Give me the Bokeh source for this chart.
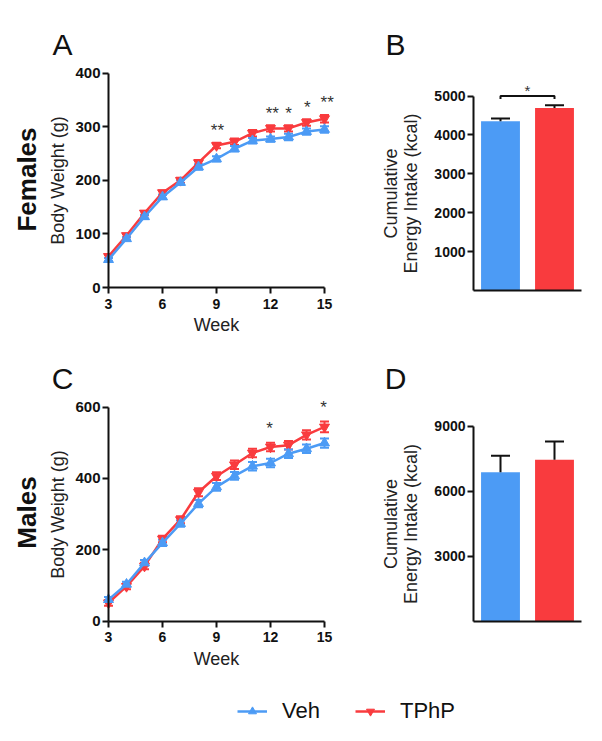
import numpy as np
from bokeh.plotting import figure
from bokeh.models import (LinearAxis, FixedTicker, Range1d, ColumnDataSource,
                          Whisker, TeeHead, Legend, LegendItem)
from bokeh.layouts import column, row
from bokeh.embed import file_html
from bokeh.resources import INLINE
from bokeh.core.properties import value

# ---------------- data ----------------
weeks = [3, 4, 5, 6, 7, 8, 9, 10, 11, 12, 13, 14, 15]
fem_veh = [52, 91, 132, 169, 196, 225, 240, 259, 274, 277, 281, 291, 295]
fem_veh_sem = [3, 3, 4, 4, 4, 5, 5, 5, 5, 5, 6, 6, 6]
fem_tphp = [58, 97, 139, 177, 200, 233, 265, 272, 288, 297, 297, 308, 315]
fem_tphp_sem = [3, 3, 4, 4, 5, 5, 5, 6, 6, 6, 6, 6, 7]
male_veh = [60, 103, 163, 219, 273, 329, 376, 407, 434, 443, 469, 483, 499]
male_veh_sem = [7, 7, 8, 9, 9, 10, 11, 11, 12, 12, 12, 12, 13]
male_tphp = [51, 97, 154, 230, 284, 361, 406, 438, 471, 488, 493, 522, 544]
male_tphp_sem = [8, 8, 9, 9, 10, 11, 11, 12, 12, 12, 12, 13, 15]

fem_star_weeks = [9.05, 12.1, 13.0, 14.05, 15.15]
fem_star_y = [301, 333, 333, 344, 352]
fem_star_text = ["**", "**", "*", "*", "**"]
male_star_weeks = [11.95, 14.95]
male_star_y = [551, 609]
male_star_text = ["*", "*"]

groups = ["Veh", "TPhP"]
fem_intake = [4350, 4690]
fem_intake_sem = [70, 70]
male_intake = [6870, 7450]
male_intake_sem = [765, 840]
fem_bracket_y = 5000
fem_bracket_text = "*"

week_ticks = [3, 6, 9, 12, 15]
fem_bw_ticks = [0, 100, 200, 300, 400]
male_bw_ticks = [0, 200, 400, 600]
fem_kcal_ticks = [1000, 2000, 3000, 4000, 5000]
male_kcal_ticks = [3000, 6000, 9000]

# ---------------- style ----------------
BLUE = "#4C9BF5"
RED = "#F93B3E"
FONT = "Liberation Sans"
INK = "#111111"


def lin(v0, p0, v1, p1):
    k = (p1 - p0) / (v1 - v0)
    return lambda px: v0 + (px - p0) / k


def make_fig(box, xmap, ymap):
    left, top, right, bottom = box
    p = figure(width=right - left, height=bottom - top,
               x_range=Range1d(xmap(left), xmap(right)),
               y_range=Range1d(ymap(bottom), ymap(top)),
               x_axis_location=None, y_axis_location=None,
               toolbar_location=None, output_backend="svg",
               min_border=0, outline_line_color=None)
    p.grid.visible = False
    return p


def style_axis(ax, tick_size, label_size):
    ax.axis_line_width = 2
    ax.axis_line_color = INK
    ax.major_tick_line_width = 2
    ax.major_tick_line_color = INK
    ax.major_tick_out = 6
    ax.major_tick_in = 0
    ax.minor_tick_out = 0
    ax.minor_tick_in = 0
    ax.major_label_text_font = FONT
    ax.major_label_text_font_style = "bold"
    ax.major_label_text_font_size = tick_size
    ax.major_label_text_color = INK
    ax.axis_label_text_font = FONT
    ax.axis_label_text_font_style = "normal"
    ax.axis_label_text_font_size = label_size
    ax.axis_label_text_color = "#222222"


def add_text(p, x, y, txt, size, **kw):
    p.text(x=x, y=y, text=txt, text_font=value(FONT), text_font_size=size, **kw)


def line_panel(box, ymap, y_ticks, veh, veh_sem, tphp, tphp_sem,
               sx, sy, st, letter, letter_base, sex, sex_center):
    xmap = lin(3, 108, 15, 324)
    p = make_fig(box, xmap, ymap)
    for vals, sem, color, marker in [(tphp, tphp_sem, RED, "inverted_triangle"),
                                     (veh, veh_sem, BLUE, "triangle")]:
        src = ColumnDataSource(dict(x=weeks, y=vals,
                                    lo=[v - s for v, s in zip(vals, sem)],
                                    hi=[v + s for v, s in zip(vals, sem)]))
        p.add_layout(Whisker(source=src, base="x", upper="hi", lower="lo",
                             line_color=color, line_width=2,
                             upper_head=TeeHead(size=9, line_color=color, line_width=2),
                             lower_head=TeeHead(size=9, line_color=color, line_width=2)))
        p.line("x", "y", source=src, line_color=color, line_width=2.5)
        p.scatter("x", "y", source=src, marker=marker, size=10,
                  fill_color=color, line_color=color)

    yax = LinearAxis(fixed_location=weeks[0], bounds=(0, y_ticks[-1]),
                     ticker=FixedTicker(ticks=y_ticks), axis_label="Body Weight (g)",
                     major_label_standoff=2, axis_label_standoff=4)
    style_axis(yax, "15px", "18px")
    p.add_layout(yax, "left")
    xax = LinearAxis(fixed_location=0, bounds=(weeks[0], weeks[-1]),
                     ticker=FixedTicker(ticks=week_ticks), axis_label="Week",
                     major_label_standoff=5, axis_label_standoff=3)
    style_axis(xax, "14px", "18px")
    p.add_layout(xax, "below")

    add_text(p, sx, sy, st, "17px", text_color="#333333", text_align="center",
             text_baseline="middle", y_offset=4)
    add_text(p, [xmap(62)], [ymap(letter_base)], [letter], "30px", text_color=INK,
             text_align="center", text_baseline="alphabetic")
    add_text(p, [xmap(26)], [ymap(sex_center)], [sex], "26px", text_color=INK,
             text_align="center", text_baseline="middle", angle=np.pi / 2,
             text_font_style="bold")
    return p


def bar_panel(box, ymap, vals, sem, ticks, letter, letter_base,
              bracket_y=None, bracket_text=None):
    xmap = lin(0, 473, 2, 581)
    p = make_fig(box, xmap, ymap)
    xs = [i + 0.5 for i in range(len(groups))]
    src = ColumnDataSource(dict(x=xs, top=vals,
                                up=[v + s for v, s in zip(vals, sem)],
                                color=[BLUE, RED]))
    p.vbar(x="x", top="top", width=0.72, source=src, fill_color="color", line_color=None)
    p.add_layout(Whisker(source=src, base="x", upper="up", lower="top",
                         line_color=INK, line_width=2, level="annotation",
                         upper_head=TeeHead(size=19, line_color=INK, line_width=2),
                         lower_head=None))
    yax = LinearAxis(fixed_location=0, bounds=(0, ticks[-1]),
                     ticker=FixedTicker(ticks=ticks),
                     axis_label="Cumulative\nEnergy Intake (kcal)",
                     major_label_standoff=2, axis_label_standoff=10)
    style_axis(yax, "14px", "18px")
    yax.axis_label_text_line_height = 1.0
    p.add_layout(yax, "left")
    xax = LinearAxis(fixed_location=0, bounds=(0, len(groups)),
                     ticker=FixedTicker(ticks=[]))
    style_axis(xax, "0px", "0px")
    xax.major_tick_out = 0
    p.add_layout(xax, "below")

    if bracket_y is not None:
        d = ymap(100) - ymap(103)
        p.line(x=[xs[0], xs[0], xs[1], xs[1]],
               y=[bracket_y - d, bracket_y, bracket_y, bracket_y - d],
               line_color=INK, line_width=2)
        add_text(p, [sum(xs) / len(xs)], [bracket_y], [bracket_text], "15px",
                 text_color="#333333", text_align="center", text_baseline="bottom",
                 y_offset=3)
    add_text(p, [xmap(395)], [ymap(letter_base)], [letter], "30px", text_color=INK,
             text_align="center", text_baseline="alphabetic")
    return p


pA = line_panel((0, 0, 366, 345), lin(0, 287, 400, 72.7), fem_bw_ticks,
                fem_veh, fem_veh_sem, fem_tphp, fem_tphp_sem,
                fem_star_weeks, fem_star_y, fem_star_text, "A", 43.5, "Females", 179)
pB = bar_panel((366, 0, 594, 345), lin(0, 290, 5000, 95.5), fem_intake, fem_intake_sem,
               fem_kcal_ticks, "B", 43.5, fem_bracket_y, fem_bracket_text)
pC = line_panel((0, 345, 366, 680), lin(0, 620.5, 600, 406.5), male_bw_ticks,
                male_veh, male_veh_sem, male_tphp, male_tphp_sem,
                male_star_weeks, male_star_y, male_star_text, "C", 378, "Males", 512)
pD = bar_panel((366, 345, 594, 680), lin(0, 621, 9000, 425.5), male_intake, male_intake_sem,
               male_kcal_ticks, "D", 378)

# legend strip (placeholder renderers sit outside the visible range)
lp = figure(width=594, height=55, x_range=Range1d(0, 1), y_range=Range1d(0, 1),
            x_axis_location=None, y_axis_location=None, toolbar_location=None,
            output_backend="svg", min_border=0, outline_line_color=None)
lp.grid.visible = False
ghost = ColumnDataSource(dict(x=[5, 6], y=[5, 6]))
r1 = lp.line("x", "y", source=ghost, line_color=BLUE, line_width=2.5)
r2 = lp.scatter("x", "y", source=ghost, marker="triangle", size=10, color=BLUE)
r3 = lp.line("x", "y", source=ghost, line_color=RED, line_width=2.5)
r4 = lp.scatter("x", "y", source=ghost, marker="inverted_triangle", size=10, color=RED)
legend = Legend(items=[LegendItem(label=value(groups[0]), renderers=[r1, r2]),
                       LegendItem(label=value(groups[1]), renderers=[r3, r4])],
                orientation="horizontal", location=(237, 11),
                border_line_color=None, background_fill_alpha=0,
                label_text_font=FONT, label_text_font_size="22px",
                label_text_color=INK, glyph_width=30, glyph_height=20,
                label_standoff=15, spacing=35, padding=0, margin=0)
lp.add_layout(legend)

layout = column(row(pA, pB), row(pC, pD), lp)
open("out.html", "w").write(file_html(layout, INLINE))
